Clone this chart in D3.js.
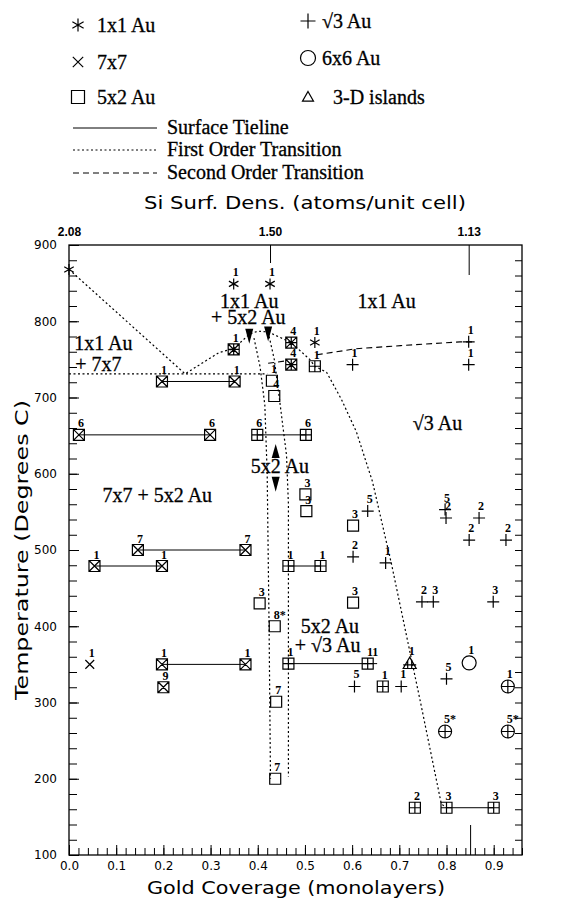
<!DOCTYPE html>
<meta charset="utf-8">
<style>
    body { margin: 0; background: #fff; }
    svg { display: block; }
    .axis path { display: none; }
    .axis line { stroke: #000; stroke-width: 1; }
    .axis text { font: 12px "DejaVu Sans", sans-serif; fill: #000; }
    .top text { font: bold 12px "Liberation Sans", sans-serif; }
    .mk { fill: none; stroke: #000; stroke-width: 1.2; }
    .num { font: bold 12px "Liberation Serif", serif; fill: #000; }
    .reg { font: 20px "Liberation Serif", serif; fill: #000; stroke: #000; stroke-width: 0.3; }
    .ttl { font: 18px "DejaVu Sans", sans-serif; fill: #000; }
</style>
<svg id="chart" width="579" height="899"></svg>
<script src="https://cdn.jsdelivr.net/npm/d3@7"></script>
<script>

// ---- data (coverage in monolayers, temperature in C, label) ----
var stars1x1 = [[0, 868, ""], [0.349, 849, "1"], [0.426, 849, "1"], [0.521, 772, "1"]];
var x7x7 = [[0.044, 350, "1"]];
var squares5x2 = [[0.430, 722, "1"], [0.435, 702, "4"], [0.404, 430, "3"], [0.436, 400, "8*"],
    [0.439, 301, "7"], [0.437, 200, "7"], [0.501, 573, "3"], [0.503, 551, "3"],
    [0.602, 532, "3"], [0.602, 431, "3"]];
var plusSqrt3 = [[0.601, 743, "1"], [0.847, 773, "1"], [0.847, 743, "1"], [0.633, 551, "5"],
    [0.602, 491, "2"], [0.671, 483, "1"], [0.797, 553, "5"], [0.799, 542, "2"],
    [0.869, 542, "2"], [0.848, 513, "2"], [0.926, 513, "2"], [0.748, 432, "2"],
    [0.772, 432, "3"], [0.899, 432, "3"], [0.605, 321, "5"], [0.704, 321, "1"],
    [0.80, 331, "5"]];
var circles6x6 = [[0.848, 352, "1"]];
var islands3d = [[0.722, 351, "1"]];
var sq5x2_7x7 = [[0.197, 721, "1"], [0.351, 721, "1"], [0.021, 651, "6"], [0.299, 651, "6"],
    [0.146, 500, "7"], [0.374, 500, "7"], [0.054, 479, "1"], [0.197, 479, "1"],
    [0.197, 350, "1"], [0.374, 350, "1"], [0.2, 320, "9"]];
var sq5x2_sqrt3 = [[0.399, 651, "6"], [0.502, 651, "6"], [0.465, 479, "1"], [0.533, 479, "1"],
    [0.465, 351, "1"], [0.633, 351, "11"], [0.665, 321, "1"], [0.521, 741, "1"],
    [0.733, 162, "2"], [0.80, 162, "3"], [0.90, 162, "3"]];
var sq5x2_1x1 = [[0.349, 763, "1"], [0.471, 772, "4"], [0.471, 743, "4"]];
var circ6x6_sqrt3 = [[0.93, 321, "1"], [0.797, 262, "5*"], [0.93, 262, "5*"]];

var tielines = [
    [[0.197, 721], [0.351, 721]],
    [[0.021, 651], [0.299, 651]],
    [[0.399, 651], [0.502, 651]],
    [[0.146, 500], [0.374, 500]],
    [[0.054, 479], [0.197, 479]],
    [[0.465, 479], [0.533, 479]],
    [[0.197, 350], [0.374, 350]],
    [[0.465, 351], [0.653, 351]],
    [[0.80, 162], [0.90, 162]]
];

var firstOrder = [
    [[0, 868], [0.246, 731], [0.318, 759], [0.349, 764], [0.382, 783], [0.40, 787], [0.422, 786],
     [0.471, 772], [0.51, 750], [0.521, 741], [0.546, 733], [0.577, 698], [0.609, 655],
     [0.643, 590], [0.684, 480], [0.728, 350], [0.745, 300], [0.789, 167], [0.80, 162]],
    [[0, 731], [0.42, 731]],
    [[0.392, 778], [0.405, 740], [0.415, 690], [0.42, 600], [0.424, 400], [0.427, 200]],
    [[0.422, 786], [0.435, 750], [0.446, 698], [0.461, 624], [0.465, 560], [0.465, 203]]
];
var secondOrder = [
    [[0.525, 756], [0.609, 764], [0.703, 768], [0.829, 773], [0.86, 773]],
    [[0.422, 745], [0.46, 748]]
];

var arrowsDown = [[0.382, 781], [0.422, 784], [0.438, 587]];
var arrowsUp = [[0.438, 630]];

var regionText = [
    ["1x1 Au", 0.673, 818, "middle"],
    ["1x1 Au", 0.382, 818, "middle"],
    ["+ 5x2 Au", 0.38, 796, "middle"],
    ["1x1 Au", 0.011, 762, "start"],
    ["+ 7x7", 0.013, 735, "start"],
    ["\u221A3 Au", 0.781, 657, "middle"],
    ["5x2 Au", 0.447, 601, "middle"],
    ["7x7 + 5x2 Au", 0.071, 563, "start"],
    ["5x2 Au", 0.553, 391, "middle"],
    ["+ \u221A3 Au", 0.548, 366, "middle"]
];

var topTickPos = [0, 0.426, 0.847];
var topTickLabels = ["2.08", "1.50", "1.13"];

var legendMarks = [["star", "1x1 Au"], ["x", "7x7"], ["square", "5x2 Au"]];
var legendMarks2 = [["plus", "\u221A3 Au"], ["circle", "6x6 Au"], ["triangle", "3-D islands"]];
var legendLines = [["Surface Tieline", null], ["First Order Transition", "2,2.5"], ["Second Order Transition", "6,4"]];

// ---- layout ----
var svg = d3.select("#chart");
var x = d3.scaleLinear().domain([0, 0.96]).range([69, 522]);
var y = d3.scaleLinear().domain([100, 900]).range([855, 245]);

function markerPath(type, cx, cy, s) {
    var r = s / 2, p = d3.path(), k;
    function seg(x1, y1, x2, y2) { p.moveTo(cx + x1, cy + y1); p.lineTo(cx + x2, cy + y2); }
    if (type.indexOf("sq") === 0 || type === "square") {
        p.rect(cx - r, cy - r, s, s);
    }
    if (type.indexOf("circ") === 0) {
        p.moveTo(cx + r, cy); p.arc(cx, cy, r, 0, 2 * Math.PI);
    }
    if (type === "star") {
        seg(0, -r, 0, r);
        k = r * Math.cos(Math.PI / 6);
        seg(-k, -r / 2, k, r / 2); seg(-k, r / 2, k, -r / 2);
    }
    if (type === "x" || type === "sqX" || type === "sqStar") {
        k = type === "x" ? r * 0.8 : r;
        seg(-k, -k, k, k); seg(-k, k, k, -k);
    }
    if (type === "plus" || type === "sqPlus" || type === "sqStar" || type === "circPlus") {
        seg(0, -r, 0, r); seg(-r, 0, r, 0);
    }
    if (type === "triangle" || type === "triPlus") {
        p.moveTo(cx, cy - r); p.lineTo(cx + r, cy + r * 0.75); p.lineTo(cx - r, cy + r * 0.75); p.closePath();
        if (type === "triPlus") { seg(-2, -r * 0.4, -2, r * 0.75); seg(2, -r * 0.4, 2, r * 0.75); seg(-r, r * 0.2, r, r * 0.2); }
    }
    return p.toString();
}

// axes
var gBottom = svg.append("g").attr("class", "axis").attr("transform", "translate(0,855)");
gBottom.call(d3.axisBottom(x).tickValues(d3.range(0, 0.961, 0.02)).tickSize(-7).tickFormat(""));
gBottom.append("g").call(d3.axisBottom(x).tickValues(d3.range(0, 0.91, 0.1)).tickSize(-10).tickPadding(6).tickFormat(d3.format(".1f")));
gBottom.append("g").call(d3.axisBottom(x).tickValues([0.85]).tickSize(-30).tickFormat(""));

var gLeft = svg.append("g").attr("class", "axis").attr("transform", "translate(69,0)");
gLeft.call(d3.axisLeft(y).tickValues(d3.range(100, 900, 20)).tickSize(-8).tickFormat(""));
gLeft.append("g").call(d3.axisLeft(y).tickValues(d3.range(100, 901, 100)).tickSize(-10).tickPadding(12));

svg.append("g").attr("class", "axis").attr("transform", "translate(522,0)")
    .call(d3.axisRight(y).tickValues(d3.range(120, 900, 20)).tickSize(-7).tickFormat(""));

var gTop = svg.append("g").attr("class", "axis top").attr("transform", "translate(0,245)");
gTop.call(d3.axisTop(x).tickValues(topTickPos).tickSize(0).tickPadding(9)
    .tickFormat(function(d, i) { return topTickLabels[i]; }));
gTop.append("g").call(d3.axisTop(x).tickValues([topTickPos[1]]).tickSize(-18).tickFormat(""));
gTop.append("g").call(d3.axisTop(x).tickValues([topTickPos[2]]).tickSize(-30).tickFormat(""));

svg.append("rect")
    .attr("x", x(0)).attr("y", y(900))
    .attr("width", x(0.96) - x(0)).attr("height", y(100) - y(900))
    .attr("fill", "none").attr("stroke", "#000").attr("stroke-width", 1.3);

// axis titles
svg.append("text").attr("class", "ttl")
    .attr("x", 305).attr("y", 209).attr("text-anchor", "middle")
    .attr("textLength", 322).attr("lengthAdjust", "spacingAndGlyphs")
    .text("Si Surf. Dens. (atoms/unit cell)");
svg.append("text").attr("class", "ttl")
    .attr("x", 296).attr("y", 894).attr("text-anchor", "middle")
    .attr("textLength", 298).attr("lengthAdjust", "spacingAndGlyphs")
    .text("Gold Coverage (monolayers)");
svg.append("text").attr("class", "ttl")
    .attr("transform", "translate(28,550) rotate(-90)").attr("text-anchor", "middle")
    .attr("textLength", 300).attr("lengthAdjust", "spacingAndGlyphs")
    .text("Temperature (Degrees C)");

// transition lines
var line = d3.line().x(function(d) { return x(d[0]); }).y(function(d) { return y(d[1]); });
var plot = svg.append("g");

plot.selectAll(".first").data(firstOrder).enter().append("path")
    .attr("d", line).attr("fill", "none").attr("stroke", "#000")
    .attr("stroke-width", 1.2).attr("stroke-dasharray", "2,2.5");
plot.selectAll(".second").data(secondOrder).enter().append("path")
    .attr("d", line).attr("fill", "none").attr("stroke", "#000")
    .attr("stroke-width", 1.1).attr("stroke-dasharray", "6,4");
plot.selectAll(".tie").data(tielines).enter().append("path")
    .attr("d", line).attr("fill", "none").attr("stroke", "#000").attr("stroke-width", 1);

// arrows
plot.selectAll(".adown").data(arrowsDown).enter().append("path")
    .attr("d", function(d) { var cx = x(d[0]), cy = y(d[1]);
        return "M" + (cx - 4) + "," + (cy - 7) + "L" + (cx + 4) + "," + (cy - 7) + "L" + cx + "," + (cy + 8) + "Z"; })
    .attr("fill", "#000");
plot.selectAll(".aup").data(arrowsUp).enter().append("path")
    .attr("d", function(d) { var cx = x(d[0]), cy = y(d[1]);
        return "M" + (cx - 4) + "," + (cy + 7) + "L" + (cx + 4) + "," + (cy + 7) + "L" + cx + "," + (cy - 7) + "Z"; })
    .attr("fill", "#000");

// markers
var groups = [
    [stars1x1, "star", 11],
    [x7x7, "x", 11],
    [squares5x2, "square", 11],
    [plusSqrt3, "plus", 12],
    [circles6x6, "circle", 14],
    [islands3d, "triPlus", 13],
    [sq5x2_7x7, "sqX", 11],
    [sq5x2_sqrt3, "sqPlus", 11],
    [sq5x2_1x1, "sqStar", 11],
    [circ6x6_sqrt3, "circPlus", 13]
];

groups.forEach(function(gr) {
    var g = plot.append("g");
    g.selectAll("path").data(gr[0]).enter().append("path")
        .attr("class", "mk")
        .attr("d", function(d) { return markerPath(gr[1], x(d[0]), y(d[1]), gr[2]); });
    g.selectAll("text").data(gr[0]).enter().append("text")
        .attr("class", "num")
        .attr("x", function(d) { return x(d[0]) + 2 + (d[2].length - 1) * 3; })
        .attr("y", function(d) { return y(d[1]) - gr[2] / 2 - 2; })
        .attr("text-anchor", "middle")
        .text(function(d) { return d[2]; });
});

// region labels
plot.selectAll(".reg").data(regionText).enter().append("text")
    .attr("class", "reg")
    .attr("x", function(d) { return x(d[1]); })
    .attr("y", function(d) { return y(d[2]); })
    .attr("text-anchor", function(d) { return d[3]; })
    .text(function(d) { return d[0]; });

// legend
var leg = svg.append("g");
var rowsL = [25, 62, 97], rowsR = [21, 58, 97], rowsLine = [128, 150, 173];
legendMarks.forEach(function(m, i) {
    leg.append("path").attr("class", "mk").attr("d", markerPath(m[0], 78, rowsL[i], 13));
    leg.append("text").attr("class", "reg").attr("x", 97).attr("y", rowsL[i] + 7).text(m[1]);
});
legendMarks2.forEach(function(m, i) {
    leg.append("path").attr("class", "mk").attr("d", markerPath(m[0], 308, rowsR[i], m[0] === "triangle" ? 11 : 15));
    leg.append("text").attr("class", "reg").attr("x", m[0] === "triangle" ? 333 : 322).attr("y", rowsR[i] + 7).text(m[1]);
});
legendLines.forEach(function(m, i) {
    leg.append("line").attr("x1", 73).attr("x2", 157).attr("y1", rowsLine[i]).attr("y2", rowsLine[i])
        .attr("stroke", "#000").attr("stroke-width", 1)
        .attr("stroke-dasharray", m[1]);
    leg.append("text").attr("class", "reg").attr("x", 167).attr("y", rowsLine[i] + 6).text(m[0]);
});

</script>
